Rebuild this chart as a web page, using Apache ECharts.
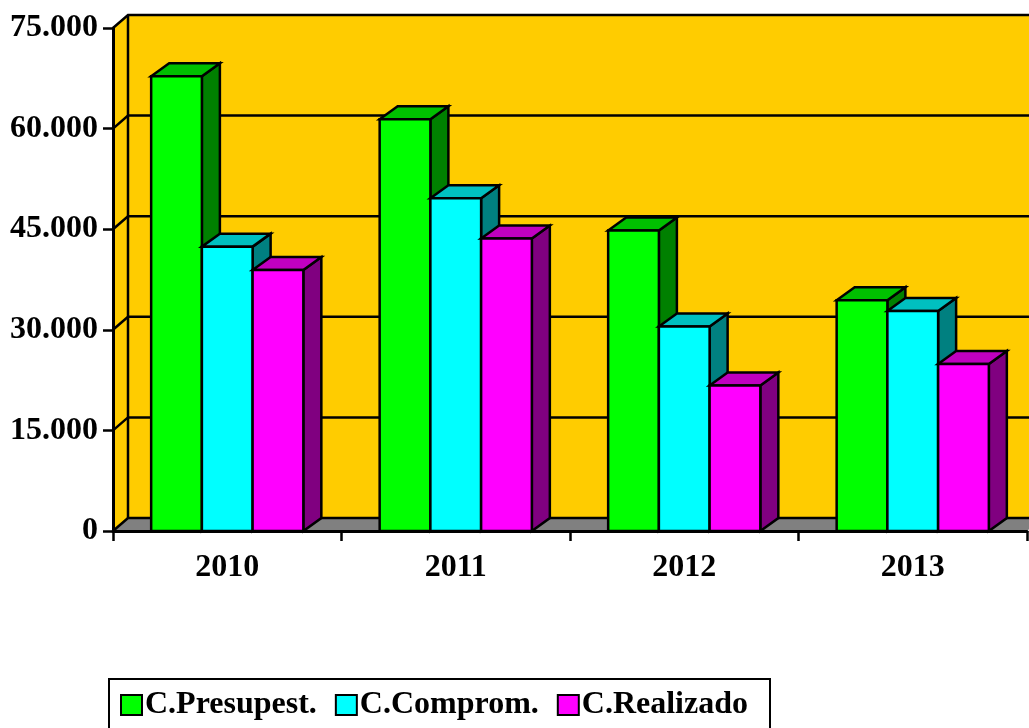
<!DOCTYPE html>
<html>
<head>
<meta charset="utf-8">
<script src="https://cdn.jsdelivr.net/npm/echarts@6/dist/echarts.min.js"></script>
<style>
  html, body { margin: 0; padding: 0; background: #ffffff; }
  #chart { width: 1029px; height: 728px; }
</style>
</head>
<body>
<div id="chart"></div>
<script>
// Categories and series values
const years = ['2010', '2011', '2012', '2013'];
const presupuestado = [67800, 61400, 44800, 34400];
const comprometido = [42400, 49600, 30500, 32800];
const realizado = [38900, 43600, 21700, 24900];
const seriesNames = ['C.Presupest.', 'C.Comprom.', 'C.Realizado'];

// Value axis ticks
const yMin = 0;
const yMax = 75000;
const yStep = 15000;

// Face colours for each series: front, top, side
const faceColors = [
  { front: '#00ff00', top: '#00c000', side: '#008000' },
  { front: '#00ffff', top: '#00c0c0', side: '#008080' },
  { front: '#ff00ff', top: '#c000c0', side: '#800080' }
];

const FONT = '"Liberation Serif", "Times New Roman", serif';
const WALL_DX = 15, WALL_DY = 13;   // depth of the box walls
const BAR_DX = 18, BAR_DY = 13;     // depth of each column
const BAR_FRACTION = 0.222;         // column width relative to a category band

function thousands(v) {
  return v === 0 ? '0' : String(v).replace(/\B(?=(\d{3})+(?!\d))/g, '.');
}

// Yellow walls, grey floor and the gridlines that run onto the back wall
function renderBackdrop(params, api) {
  const cs = params.coordSys;
  const L = cs.x, R = cs.x + cs.width, T = cs.y, B = cs.y + cs.height;
  const children = [];
  const wallStyle = { fill: '#ffcc00', stroke: null };
  children.push({
    type: 'polygon',
    shape: { points: [[L, T], [L + WALL_DX, T - WALL_DY], [L + WALL_DX, B - WALL_DY], [L, B]] },
    style: wallStyle
  });
  children.push({
    type: 'rect',
    shape: { x: L + WALL_DX, y: T - WALL_DY, width: R - L, height: B - T },
    style: wallStyle
  });
  children.push({
    type: 'polygon',
    shape: { points: [[L, B], [L + WALL_DX, B - WALL_DY], [R + WALL_DX, B - WALL_DY], [R, B]] },
    style: { fill: '#808080', stroke: null }
  });
  for (let v = yMin; v <= yMax; v += yStep) {
    const y = api.coord([0, v])[1];
    children.push({
      type: 'polyline',
      shape: { points: [[L, y], [L + WALL_DX, y - WALL_DY], [R + WALL_DX, y - WALL_DY]] },
      style: { fill: null, stroke: '#000', lineWidth: 2.5 }
    });
  }
  children.push({
    type: 'line',
    shape: { x1: L + WALL_DX, y1: T - WALL_DY, x2: L + WALL_DX, y2: B - WALL_DY },
    style: { stroke: '#000', lineWidth: 2.5 }
  });
  return { type: 'group', children: children };
}

// One extruded column: front face, top face and right side face
function makeBarRenderer(seriesIndex) {
  const c = faceColors[seriesIndex];
  return function (params, api) {
    const cat = api.value(0);
    const val = api.value(1);
    const band = api.size([1, 0])[0];
    const bw = band * BAR_FRACTION;
    const center = api.coord([cat, 0])[0];
    const x0 = center - 1.5 * bw + seriesIndex * bw;
    const x1 = x0 + bw;
    const yb = api.coord([cat, 0])[1];
    const yt = api.coord([cat, val])[1];
    const stroke = { stroke: '#000', lineWidth: 2.5, lineJoin: 'miter' };
    return {
      type: 'group',
      children: [
        {
          type: 'polygon',
          shape: { points: [[x1, yt], [x1 + BAR_DX, yt - BAR_DY], [x1 + BAR_DX, yb - BAR_DY], [x1, yb]] },
          style: Object.assign({ fill: c.side }, stroke)
        },
        {
          type: 'polygon',
          shape: { points: [[x0, yt], [x0 + BAR_DX, yt - BAR_DY], [x1 + BAR_DX, yt - BAR_DY], [x1, yt]] },
          style: Object.assign({ fill: c.top }, stroke)
        },
        {
          type: 'rect',
          shape: { x: x0, y: yt, width: bw, height: yb - yt },
          style: Object.assign({ fill: c.front }, stroke)
        }
      ]
    };
  };
}

const valueSets = [presupuestado, comprometido, realizado];

const barSeries = valueSets.map(function (vals, s) {
  return {
    name: seriesNames[s],
    type: 'custom',
    coordinateSystem: 'cartesian2d',
    renderItem: makeBarRenderer(s),
    itemStyle: { color: faceColors[s].front },
    encode: { x: 0, y: 1 },
    data: vals.map(function (v, i) { return [i, v]; }),
    z: 3
  };
});

const chart = echarts.init(document.getElementById('chart'), null, { renderer: 'canvas' });
chart.setOption({
  backgroundColor: '#ffffff',
  animation: false,
  grid: { left: 113, right: 2, top: 28, bottom: 197, containLabel: false },
  xAxis: {
    type: 'category',
    data: years,
    boundaryGap: true,
    z: 10,
    axisLine: { show: true, lineStyle: { color: '#000', width: 3 } },
    axisTick: { show: true, length: 10, lineStyle: { color: '#000', width: 2.5 } },
    axisLabel: { color: '#000', fontFamily: FONT, fontWeight: 'bold', fontSize: 32, margin: 21 },
    splitLine: { show: false }
  },
  yAxis: {
    type: 'value',
    min: yMin,
    max: yMax,
    interval: yStep,
    z: 10,
    axisLine: { show: true, lineStyle: { color: '#000', width: 3 } },
    axisTick: { show: true, length: 10, lineStyle: { color: '#000', width: 2.5 } },
    axisLabel: { color: '#000', fontFamily: FONT, fontWeight: 'bold', fontSize: 32, margin: 15, formatter: thousands },
    splitLine: { show: false }
  },
  legend: {
    data: seriesNames,
    left: 109,
    top: 679,
    orient: 'horizontal',
    icon: 'rect',
    itemWidth: 21,
    itemHeight: 20,
    itemGap: 18,
    padding: [10, 22, 10, 11],
    borderColor: '#000',
    borderWidth: 2,
    backgroundColor: '#ffffff',
    itemStyle: { borderColor: '#000', borderWidth: 2 },
    textStyle: { color: '#000', fontFamily: FONT, fontWeight: 'bold', fontSize: 32, padding: [0, 0, 0, -2] }
  },
  series: [
    {
      type: 'custom',
      coordinateSystem: 'cartesian2d',
      renderItem: renderBackdrop,
      data: [[0, 0]],
      encode: { x: 0, y: 1 },
      silent: true,
      z: 1
    }
  ].concat(barSeries)
});
</script>
</body>
</html>
